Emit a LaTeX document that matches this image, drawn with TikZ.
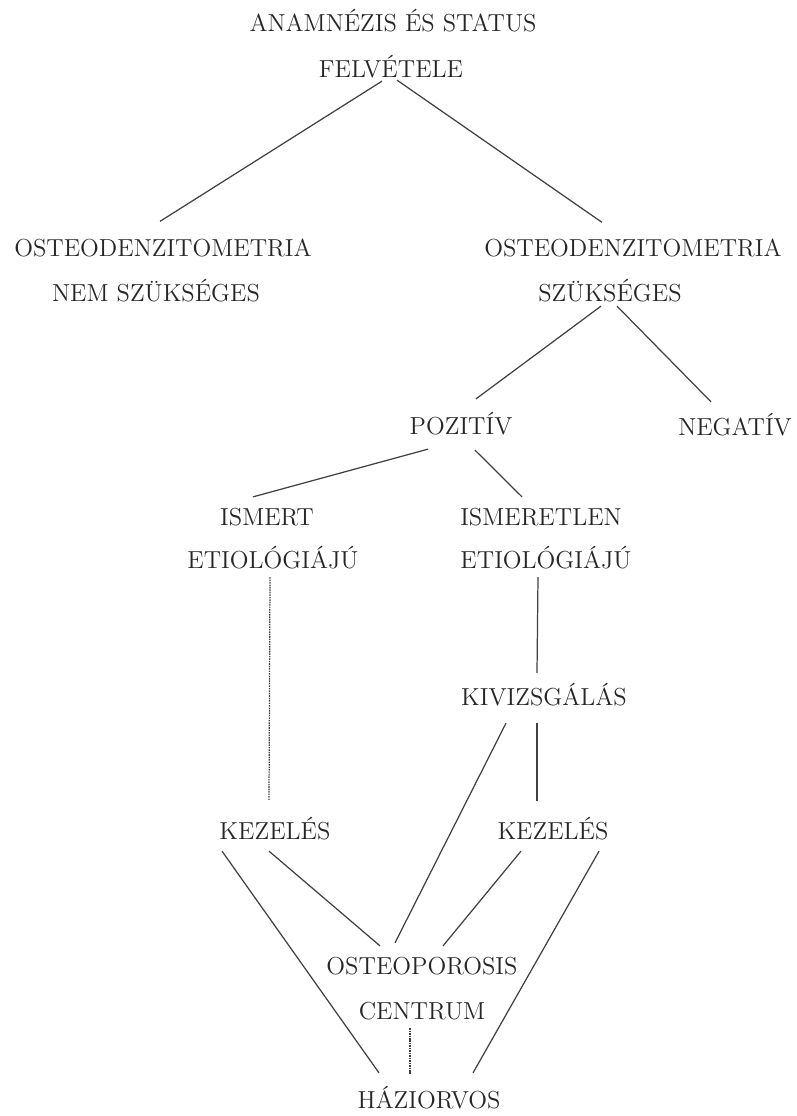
\documentclass[tikz,border=0pt]{standalone}
\usetikzlibrary{calc}

\begin{document}
\begin{tikzpicture}[x=0.02cm,y=-0.02cm,
        etichetta/.style={inner sep=0pt,text height=10pt,text depth=0pt,
            text=black!85,font=\fontsize{14}{16}\selectfont},
        ramo/.style={draw=black!75,line width=0.7pt},
        punteggiato/.style={ramo,dash pattern=on 0.9pt off 0.5pt}]
        \useasboundingbox (0,0) rectangle (797,1116);

        % Disegna le etichette in alto
        \node[etichetta] (anam) at (393,23) {ANAMNÉZIS ÉS STATUS};
        \node[etichetta] (felv) at (391,69) {FELVÉTELE};
        \node[etichetta] (osl) at (163,247.5) {OSTEODENZITOMETRIA};
        \node[etichetta] (nemsz) at (156,293) {NEM SZÜKSÉGES};
        \node[etichetta] (osr) at (633,247.5) {OSTEODENZITOMETRIA};
        \node[etichetta] (szuk) at (610,293) {SZÜKSÉGES};

        % Disegna le etichette in mezzo
        \node[etichetta] (poz) at (461,426) {POZITÍV};
        \node[etichetta] (neg) at (735,427) {NEGATÍV};
        \node[etichetta] (ism) at (267,517) {ISMERT};
        \node[etichetta] (etiol) at (273,560) {ETIOLÓGIÁJÚ};
        \node[etichetta] (isml) at (541,517) {ISMERETLEN};
        \node[etichetta] (etior) at (546,560) {ETIOLÓGIÁJÚ};
        \node[etichetta] (kiv) at (544,697) {KIVIZSGÁLÁS};

        % Disegna le etichette in basso
        \node[etichetta] (kezl) at (275,831) {KEZELÉS};
        \node[etichetta] (kezr) at (553,831) {KEZELÉS};
        \node[etichetta] (osteo) at (422,966) {OSTEOPOROSIS};
        \node[etichetta] (cent) at (422,1011) {CENTRUM};
        \node[etichetta] (haz) at (429,1100) {HÁZIORVOS};

        % Disegna i rami
        \draw[ramo] ($(felv.south)+(-9,3)$) -- ($(osl.north)+(-3,-17)$);
        \draw[ramo] ($(felv.south)+(6,2)$) -- ($(osr.north)+(-31,-16)$);
        \draw[ramo] ($(szuk.south)+(-9,4)$) -- ($(poz.north)+(15,-18)$);
        \draw[ramo] ($(szuk.south)+(7,4)$) -- ($(neg.north)+(-24,-16)$);
        \draw[ramo] ($(poz.south)+(-33,14)$) -- ($(ism.north)+(-14,-11)$);
        \draw[ramo] ($(poz.south)+(14,15)$) -- ($(isml.north)+(-19,-11)$);
        \draw[punteggiato] ($(etiol.south)+(-3,8)$) -- ($(kezl.north)+(-6,-22)$);
        \draw[ramo] ($(etior.south)+(-8,8)$) -- ($(kiv.north)+(-7,-15)$);
        \draw[ramo] ($(kiv.south)+(-7,17)$) -- ($(kezr.north)+(-16,-21)$);
        \draw[ramo] ($(kiv.south)+(-38,17)$) -- ($(osteo.north)+(-27,-14)$);
        \draw[ramo] ($(kezl.south)+(-53,11)$) -- ($(haz.north)+(-50,-18)$);
        \draw[ramo] ($(kezl.south)+(-6,11)$) -- ($(osteo.north)+(-42,-11)$);
        \draw[ramo] ($(kezr.south)+(-32,11)$) -- ($(osteo.north)+(21,-11)$);
        \draw[ramo] ($(kezr.south)+(46,11)$) -- ($(haz.north)+(44,-18)$);
        \draw[punteggiato] ($(cent.south)+(-12,8)$) -- ($(haz.north)+(-19,-16)$);
\end{tikzpicture}
\end{document}
